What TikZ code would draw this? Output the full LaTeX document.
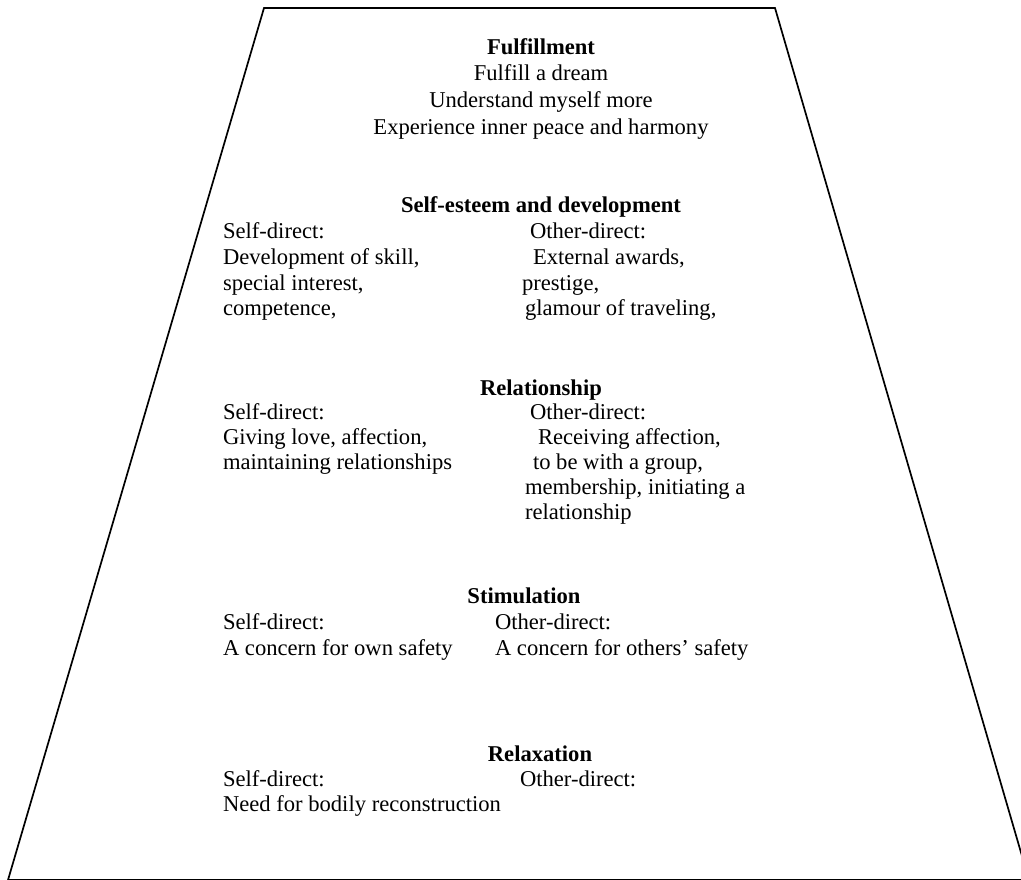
\documentclass[tikz,border=0pt]{standalone}
\usepackage{fontspec}
\setmainfont{Liberation Serif}
\begin{document}
\begin{tikzpicture}[x=1pt,y=-1pt,
  txt/.style={inner sep=0pt,outer sep=0pt,anchor=base west,font=\fontsize{22.6}{26}\selectfont},
  head/.style={inner sep=0pt,outer sep=0pt,anchor=base,font=\fontsize{22.6}{26}\selectfont\bfseries},
  ctr/.style={inner sep=0pt,outer sep=0pt,anchor=base,font=\fontsize{22.6}{26}\selectfont},
  frame/.style={draw=black,line width=1.7pt,line join=miter}]
\useasboundingbox (0,0) rectangle (1021,880);
% trapezoid
\coordinate (tl) at (264,8);
\coordinate (tr) at (775,8);
\coordinate (br) at (1029,880);
\coordinate (bl) at (8,880);
\draw[frame] (tl) -- (tr) -- (br) -- (bl) -- cycle;
% Fulfillment
\node[head] (f0) at (541,55) {Fulfillment};
\node[ctr] (f1) at (541,81) {Fulfill a dream};
\node[ctr] (f2) at (541,108) {Understand myself more};
\node[ctr] (f3) at (541,135) {Experience inner peace and harmony};
% Self-esteem
\node[head] (s0) at (541,213) {Self-esteem and development};
\node[txt] (s1) at (223,238) {Self-direct:};
\node[txt] (s2) at (223,264) {Development of skill,};
\node[txt] (s3) at (223,290) {special interest,};
\node[txt] (s4) at (223,315) {competence,};
\node[txt] (s5) at (530,238) {Other-direct:};
\node[txt] (s6) at (533,264) {External awards,};
\node[txt] (s7) at (522,290) {prestige,};
\node[txt] (s8) at (525,315) {glamour of traveling,};
% Relationship
\node[head] (r0) at (541,395) {Relationship};
\node[txt] (r1) at (223,419) {Self-direct:};
\node[txt] (r2) at (223,444) {Giving love, affection,};
\node[txt] (r3) at (223,469) {maintaining relationships};
\node[txt] (r4) at (530,419) {Other-direct:};
\node[txt] (r5) at (538,444) {Receiving affection,};
\node[txt] (r6) at (533,469) {to be with a group,};
\node[txt] (r7) at (525,494) {membership, initiating a};
\node[txt] (r8) at (525,519) {relationship};
% Stimulation
\node[head] (t0) at (524,603) {Stimulation};
\node[txt] (t1) at (223,629) {Self-direct:};
\node[txt] (t2) at (223,655) {A concern for own safety};
\node[txt] (t3) at (495,629) {Other-direct:};
\node[txt] (t4) at (495,655) {A concern for others’ safety};
% Relaxation
\node[head] (x0) at (540,761) {Relaxation};
\node[txt] (x1) at (223,786) {Self-direct:};
\node[txt] (x2) at (223,811) {Need for bodily reconstruction};
\node[txt] (x3) at (520,786) {Other-direct:};
\end{tikzpicture}
\end{document}
